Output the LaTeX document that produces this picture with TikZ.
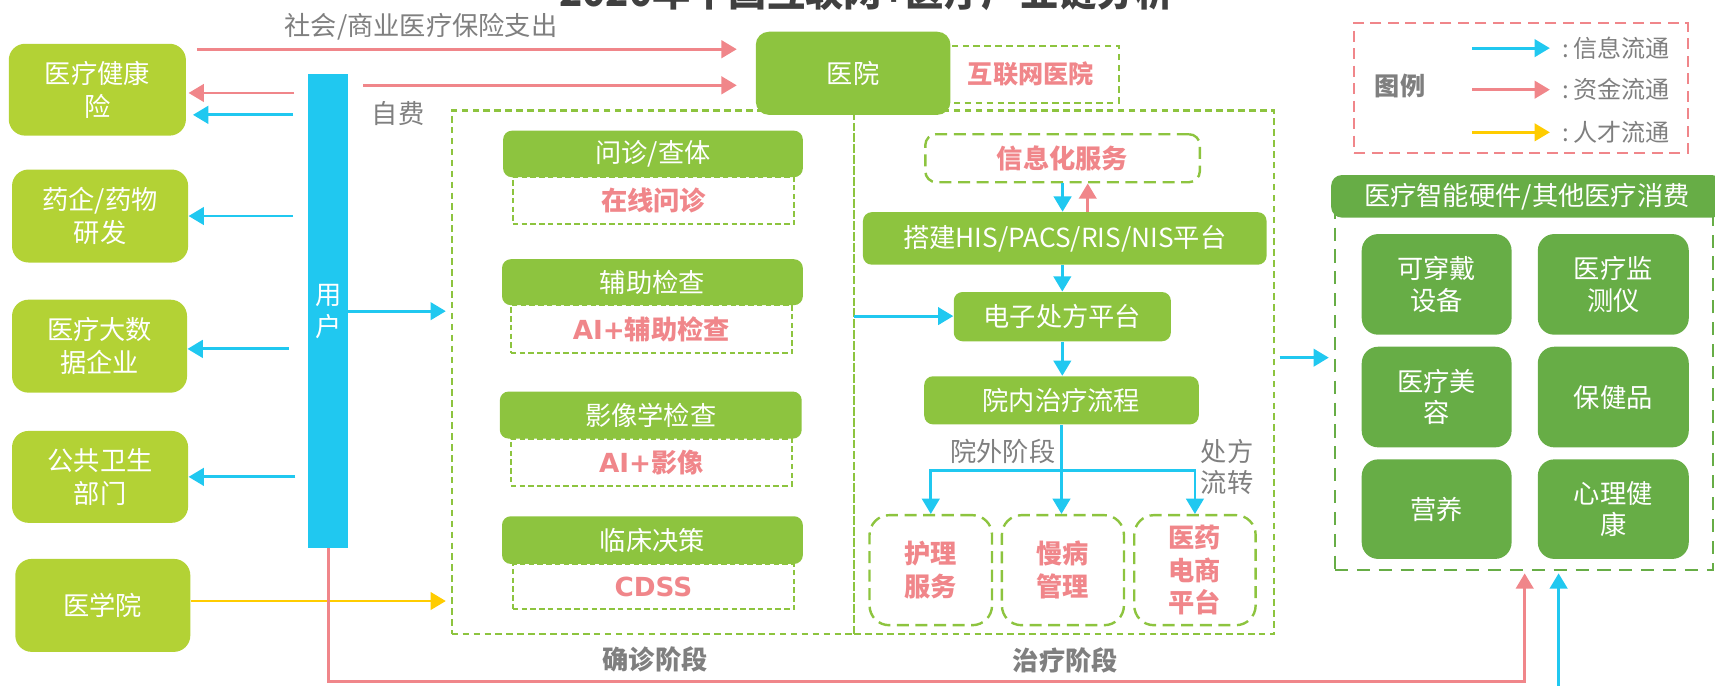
\documentclass[tikz,border=0pt]{standalone}
\usepackage{fontspec}
\setmainfont{Noto Sans CJK SC}
\newfontfamily\dvs{DejaVu Sans}
\usetikzlibrary{arrows.meta}
\definecolor{lg}{HTML}{B3D235}
\definecolor{mg}{HTML}{8DC43F}
\definecolor{dg}{HTML}{67AD46}
\definecolor{cb}{HTML}{20C8F0}
\definecolor{pk}{HTML}{F0868A}
\definecolor{yl}{HTML}{FFCC00}
\definecolor{gt}{HTML}{7F7F7F}
\definecolor{tt}{HTML}{404040}
\tikzset{
 every node/.style={inner sep=0pt},
 bx/.style n args={4}{at={({(#1+#3)/2},{(#2+#4)/2})}, minimum width={(#3-#1)*0.5pt}, minimum height={(#4-#2)*0.5pt}},
 lbox/.style={fill=lg, rounded corners=7.5pt, text=white, align=center, font=\fontsize{12}{15}\selectfont},
 gbox/.style={fill=mg, rounded corners=4pt, text=white, align=center, font=\fontsize{12}{14}\selectfont},
 cbox/.style={fill=dg, rounded corners=7.5pt, text=white, align=center, font=\fontsize{12}{14.5}\selectfont},
 fdash/.style={draw=mg, line width=1pt, dash pattern=on 2.5pt off 1.5pt, text=pk, font=\bfseries\fontsize{12}{14}\selectfont},
 sdash/.style={draw=mg, line width=1pt, dash pattern=on 3pt off 2pt},
 rdash/.style={draw=mg, line width=1.1pt, dash pattern=on 5.5pt off 3pt, rounded corners=9pt, text=pk, align=center, font=\bfseries\fontsize{12}{15}\selectfont},
 lbl/.style={text=gt, font=\fontsize{12}{14.5}\selectfont, align=center},
 slbl/.style={text=gt, font=\bfseries\fontsize{12}{14}\selectfont},
 arr/.style={line width=1.3pt, -{Triangle[length=7pt,width=8pt]}},
 ba/.style={arr, draw=cb},
 pa/.style={arr, draw=pk},
 ya/.style={arr, draw=yl},
}
\begin{document}
\begin{tikzpicture}[x=0.5pt,y=-0.5pt]
\useasboundingbox (0,0) rectangle (1568,627);
\begin{scope}
\clip (0,0) rectangle (1568,627);
% title (cut off at top, as in the reference)
\node[anchor=base, text=tt, font=\bfseries\fontsize{17.5}{20}\selectfont] (title) at (792,6) {2020年中国互联网+医疗产业链分析};

% stage containers
\node[sdash, bx={413}{101}{781}{580}] (diag) {};
\node[sdash, bx={781}{101}{1165}{580}] (treat) {};
\node[slbl] (diaglbl) at (599,603) {确诊阶段};
\node[slbl] (treatlbl) at (974,604) {治疗阶段};

% hospital
\node[sdash, bx={862}{42}{1023}{94}, text=pk, font=\bfseries\fontsize{11.5}{14}\selectfont] (ihosp) {互联网医院};
\node[gbox, rounded corners=6pt, bx={691}{29}{869}{105}] (hosp) {医院};

% left boxes
\node[lbox, bx={8}{40}{170}{124}] (b1) {医疗健康\\险};
\node[lbox, bx={11}{155}{172}{240}] (b2) {药企/药物\\研发};
\node[lbox, bx={11}{274}{171}{359}] (b3) {医疗大数\\据企业};
\node[lbox, bx={11}{394}{172}{478}] (b4) {公共卫生\\部门};
\node[lbox, bx={14}{511}{174}{596}] (b5) {医学院};

% user bar
\node[fill=cb, bx={282}{68}{318}{501}, text=white, align=center, font=\fontsize{12}{14.5}\selectfont] (ubar) {用\\户};

% diagnosis column
\node[fdash, bx={469}{162}{726}{205}] (q1s) {在线问诊};
\node[gbox, bx={460}{119.5}{734}{162}] (q1) {问诊/查体};
\node[fdash, bx={467}{279}{724}{323}] (q2s) {{\dvs\bfseries AI+}辅助检查};
\node[gbox, bx={459}{237}{734}{279}] (q2) {辅助检查};
\node[fdash, bx={467}{401}{724}{444}] (q3s) {{\dvs\bfseries AI+}影像};
\node[gbox, bx={457}{358}{733}{401}] (q3) {影像学检查};
\node[fdash, bx={469}{515.6}{726}{557}] (q4s) {{\dvs\bfseries CDSS}};
\node[gbox, bx={459}{472}{734}{515.6}] (q4) {临床决策};

% treatment column
\node[rdash, rounded corners=5pt, bx={846}{122.7}{1097}{166.6}] (info) {信息化服务};
\node[gbox, bx={789}{194}{1158}{242}] (his) {搭建HIS/PACS/RIS/NIS平台};
\node[gbox, bx={872}{267}{1070.5}{312}] (rx) {电子处方平台};
\node[gbox, bx={845}{344}{1096}{388}] (flow) {院内治疗流程};
\node[rdash, bx={795}{471}{907}{571.6}] (nurse) {护理\\服务};
\node[rdash, bx={916}{471}{1027.6}{571.6}] (chronic) {慢病\\管理};
\node[rdash, bx={1037}{471}{1148}{571.6}] (pharm) {医药\\电商\\平台};
\node[lbl] (outlbl) at (917,412.6) {院外阶段};
\node[lbl] (rxlbl) at (1122,427) {处方\\流转};

% consumption block
\node[draw=dg, line width=1.2pt, dash pattern=on 6pt off 4pt, bx={1220.5}{190}{1566}{521}] (cons) {};
\node[fill=dg, rounded corners=5pt, bx={1217}{160}{1575}{199}, text=white, font=\fontsize{12}{14}\selectfont] (chead) {医疗智能硬件/其他医疗消费};
\node[cbox, bx={1245}{214}{1382}{306}] (c1) {可穿戴\\设备};
\node[cbox, bx={1406}{214}{1544}{306}] (c2) {医疗监\\测仪};
\node[cbox, bx={1245}{317}{1382}{409}] (c3) {医疗美\\容};
\node[cbox, bx={1406}{317}{1544}{409}] (c4) {保健品};
\node[cbox, bx={1245}{420}{1382}{511}] (c5) {营养};
\node[cbox, bx={1406}{420}{1544}{511}] (c6) {心理健\\康};

% legend
\node[draw=pk, line width=1pt, dash pattern=on 5pt off 3pt, bx={1238}{21}{1543}{140}] (legend) {};
\node[slbl, font=\bfseries\fontsize{11.5}{14}\selectfont] (legt) at (1280,79) {图例};
\coordinate (la1) at (1346,44); \coordinate (lb1) at (1417,44);
\coordinate (la2) at (1346,82); \coordinate (lb2) at (1417,82);
\coordinate (la3) at (1346,121); \coordinate (lb3) at (1417,121);
\draw[ba] (la1) -- (lb1);
\draw[pa] (la2) -- (lb2);
\draw[ya] (la3) -- (lb3);
\node[lbl, anchor=west, font=\fontsize{11}{13}\selectfont] (lt1) at (1428,44) {:\,信息流通};
\node[lbl, anchor=west, font=\fontsize{11}{13}\selectfont] (lt2) at (1428,82) {:\,资金流通};
\node[lbl, anchor=west, font=\fontsize{11}{13}\selectfont] (lt3) at (1428,121) {:\,人才流通};

% top money flows
\node[lbl] (inslbl) at (385,24) {社会/商业医疗保险支出};
\node[lbl] (selflbl) at (364,103.6) {自费};
\coordinate (t1) at (180,45);
\coordinate (t2) at (332,78);
\draw[pa, shorten >=8.5pt] (t1) -- (t1 -| hosp.west);
\draw[pa, shorten >=8.5pt] (t2) -- (t2 -| hosp.west);

% user to left boxes
\coordinate (s1) at (269,85);
\coordinate (s2) at (268,105);
\coordinate (s3) at (268,197.5);
\coordinate (s4) at (264,319);
\coordinate (s5) at (270,436);
\draw[pa, shorten >=1pt] (s1) -- (s1 -| b1.east);
\draw[ba, shorten >=3pt] (s2) -- (s2 -| b1.east);
\draw[ba] (s3) -- (s3 -| b2.east);
\draw[ba] (s4) -- (s4 -| b3.east);
\draw[ba] (s5) -- (s5 -| b4.east);

% talent flow
\coordinate (y1) at (174,549.5);
\draw[ya, shorten >=2.2pt] (y1 -| b5.east) -- (y1 -| diag.west);

% user to diagnosis
\draw[ba, shorten >=2.2pt] (ubar.east) -- (ubar.east -| diag.west);

% treatment flows
\draw[ba] (info.south) -- (info.south |- his.north);
\draw[pa] ([xshift=11.5pt]info.south |- his.north) -- ([xshift=11.5pt]info.south);
\draw[ba] (rx.north |- his.south) -- (rx.north);
\draw[ba] (rx.south) -- (rx.south |- flow.north);
\coordinate (dv) at (781,289);
\draw[ba] (dv) -- (dv -| rx.west);
\coordinate (br) at (971,430);
\draw[ba] (flow.south) -- (flow.south |- chronic.north);
\draw[ba] (br) -| (nurse.north);
\draw[ba] (br) -| (pharm.north);

% to consumption
\coordinate (cc) at (1170,327);
\draw[ba, shorten >=2.2pt] (cc) -- (cc -| cons.west);
\coordinate (bl) at (300,623);
\coordinate (bm) at (1394,623);
\draw[pa, shorten >=1pt] (ubar.south) -- (bl) -- (bm) -- (bm |- cons.south);
\coordinate (bb) at (1425,632);
\draw[ba, shorten >=1pt] (bb) -- (bb |- cons.south);
\end{scope}
\end{tikzpicture}
\end{document}
